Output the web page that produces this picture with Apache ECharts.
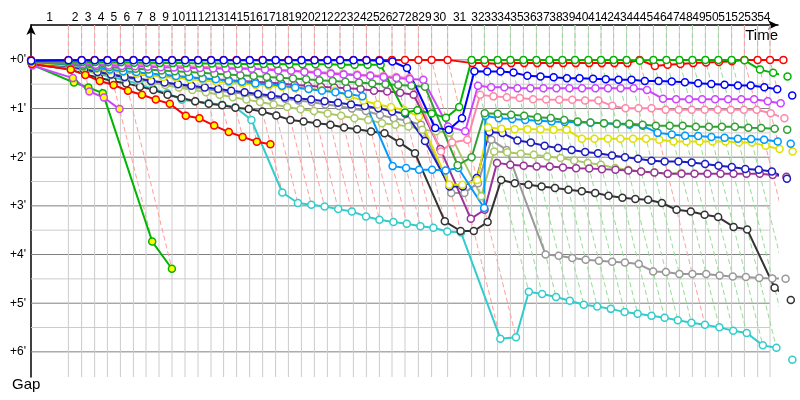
<!DOCTYPE html>
<html>
<head>
<meta charset="utf-8">
<script src="https://cdn.jsdelivr.net/npm/echarts@6/dist/echarts.min.js"></script>
<style>
html, body { margin: 0; background: #fff; }
#main { width: 800px; height: 400px; }
</style>
</head>
<body>
<div id="main"></div>
<script>
// leader's time (s) when each lap line is crossed, lap 0 .. 55
const lapLines = [0,187,253,318,382,447,512,575,640,705,770,835,900,963,1028,1093,1158,1223,1287,1352,1417,1482,1545,1612,1677,1742,1805,1870,1937,2003,2083,2203,2267,2333,2397,2462,2527,2592,2657,2720,2787,2850,2913,2978,3043,3112,3177,3242,3307,3372,3437,3503,3567,3633,3695,3762];

// gap to the leader (s) after each lap, index = lap number
const red = [0, 0,0,0,0,0,0,0,0,0,0, 0,0,0,0,0,0,0,0,0,0, 0,0,0,0,0,0,0,0,0,0,
  4,4,5,4,4,4,4,4,4,4, 4,4,4,0,7.5,6,5,4,3.3,2.5, 1.6,0,0,0,0];
const green = [2, 2,2.5,2.5,3,3,3.5,3.5,4,4,4, 4.5,4.5,4.5,5,5,5,5,5.5,5.5,5.5, 5.5,6,6,6,6,65,62,66,71.5,58,
  0,0,0,0,0,0,0,0,0,0, 0,0,0,1,0,0,0,0,0,0, 0,0.5,12,16,20.5];
const blue = [1, 0.5,0.5,0.5,0.5,0.5,0.5,0.5,0.5,0.5,0.5, 0.5,0.5,0.5,0.5,0.5,0.5,0.5,0.5,0.5,0.5,
  0.5,0.5,0.5,0.5,1,2,10,84,86,72, 14,14.4,14.4,15.6,19.7,20.5,21.3,22.6,22.6,23.4,
  23.8,24.6,24.6,26,26,26.7,27.5,28.7,29.6,30.8, 31.6,31.6,33.7,36.3,44];
const violet = [2, 4,5,6,7,7.5,8,8.5,9,9.5,10, 10,10.5,10.5,11,11,12,13,13.5,15,16,
  17,18,19,19.7,21,22.5,23.5,24.6,82,88, 32,33.7,33.7,35,35,35,35,35,35,35,
  35,35,35,37,48,48.5,48.5,48.5,48.5,48.5, 48.5,48.5,51,53.4];
const pink = [1, 3,4,4.5,5,5.5,6,6.5,7,7.5,8, 8.5,9,9.5,10,10.5,11,12,13,14,15,
  16,17,18,19,20,21,22,113,102,98.6, 43,45,46,47,48.4,49,49.3,49.3,50,50,
  56.7,59.5,59.5,59.5,61.6,61.6,61.6,61.6,61.6,61.6, 61.6,61.6,65.7,72];
const darkGreen = [3, 5,7,8,9,10,11,12,13,14,15, 16,17,18,19,20,21,22,23,24,25,
  26,27,28,29,30,31,32,33,130,120, 65.7,66.5,67.8,69,70.6,71.8,74,76,77.2,78,
  78.8,78.8,80,81.3,81.3,81.3,82.5,82.5,82.5,82.5, 83.7,84,85,86];
const lightBlue = [2, 6,8,10,12,14,15,17,18,20,21, 23,24,26,27,29,30,32,34,36,38,
  40,42,45,131,133.4,135.5,135.5,136.4,133.4,182.7, 69,72,73,74,75,76,76.5,77,77.5,78,
  79,80,81.3,90,92,93.5,94,95,96,97.3, 97.5,98.6,100.6,103.5];
const yellow = [4, 7,9,11,13,15,17,19,21,22,24, 25,27,28,29,31,32,33,35,36,37,
  38,45,50,55,58,62,70,154,154,148, 83.4,85,85.4,85.4,85.4,86,86,97.3,97.3,97.3,
  97.3,97.3,97.3,98.6,100.6,100.6,100.6,100.6,100.6,102, 102,106,110,113];
const navy = [4, 8,12,15,18,21,23,26,28,30,32, 34,36,38,40,42,44,46,47.5,49,51,
  53,55,57,59.5,63.7,66,100,156,156,145.7, 89,90.3,99.4,102,106,108.8,111,113.7,115,118,
  120,122,124.4,125.3,125.3,126.5,128.5,130.6,132,134.6, 135.5,137.6,146.6];
const purple = [3, 7,9,11,13,15,17,19,20,21,22, 23,24,25,26,27,28,29,31,32,33,
  34,35,36,38,39,40.6,43,110,196,184.8, 127,129.4,130.6,131.4,131.4,132.7,133.5,134,134.7,135.5,
  136.5,137.6,139,140.5,140.5,140.5,140.5,140.5,140.5,140.5, 140.5,141.8,144];
const lightOlive = [5, 10,13,16,19,22,25,28,31,34,37, 40,43,46,49,52,55,58,61,63,66,
  69,72,74,78,80,82,86,88,90,168, 113,114,115.8,117,119,121,124,127,129.4,133.4,
  135.5,137.6,138.8,140.5,139.6];
const gray = [4, 8,11,14,17,20,23,26,29,32,34, 36,38,40,42,44,46,48,50,52,55,
  57,60,63,68,72,75,80,164,164,152, 98.6,111,240,241.5,244.3,246.4,247.6,249,249.7,251.7,
  260.8,261.6,264,264,264,266,267,267.7,269,269.4, 270];
const black = [5, 12,18,22,26,29,33,37,43,47,51, 54,56,59,60.7,63.7,68.6,74,76,78,80,
  83.5,85.5,88.3,90.4,102,115,199,211,211,200, 148,152,154,156,158,160,162,164,167.6,170,
  171.6,172.5,176.5,184.8,187,191,193.8,206,209,281, 296];
const cyan = [5, 9,13,17,21,25,30,36,41,49.3,51.4, 53.3,55.4,58.3,74,163.5,176.5,178.6,180.7,184,187,
  193,197,200,202,205,207,211.5,212.8,343.7,342, 286,288.7,292.4,297,302,304,307,311,313,315.4,
  318,321,324,326.5,329.8,334,336.7,352,355,369.6];
const redOut = [5, 12,18.5,26,31,38,43,49,54,69,72, 81,89,95,101,104];
const greenOut = [6, 28,34,41,224,257.5];
const violetOut = [7, 22.5,39,46.4,60.7];

const gapTicks = [0, 60, 120, 180, 240, 300, 360];

const Y_MIN = -43, Y_MAX = 391, X_MAX = 3735;
const lastLine = lapLines[54];

const cars = [
  { gaps: cyan, color: '#33cccc' },
  { gaps: black, color: '#333333' },
  { gaps: gray, color: '#999999' },
  { gaps: lightOlive, color: '#aac866', out: true },
  { gaps: purple, color: '#993399' },
  { gaps: navy, color: '#1c1cc0' },
  { gaps: yellow, color: '#e0e000' },
  { gaps: lightBlue, color: '#0099ff' },
  { gaps: darkGreen, color: '#33a033' },
  { gaps: pink, color: '#ff88aa' },
  { gaps: violet, color: '#cc44ff' },
  { gaps: greenOut, color: '#00b400', fill: '#ffff00', out: true },
  { gaps: violetOut, color: '#cc44ff', fill: '#ffff00', out: true },
  { gaps: redOut, color: '#ff0000', fill: '#ffff00', out: true },
  { gaps: red, color: '#ff0000' },
  { gaps: green, color: '#00b400' },
  { gaps: blue, color: '#0000ff' }
];

const series = [];
function plain(data, color, width, type) {
  series.push({
    type: 'line', data: data, symbol: 'none', silent: true, clip: false,
    lineStyle: { color: color, width: width, type: type || 'solid' }
  });
}

// grid
for (let g = 0; g <= 360; g += 30) {
  plain([[0, g], [lastLine, g]], g % 60 === 0 ? '#808080' : '#cccccc', 1);
}
for (let k = 1; k <= 54; k++) {
  plain([[lapLines[k], Y_MIN], [lapLines[k], Y_MAX]], '#cccccc', 1);
}

// lap lines: each car crosses lap k at leader time + its gap
for (let k = 1; k < lapLines.length; k++) {
  let gmax = 0, open = false;
  cars.forEach(c => {
    if (c.gaps.length > k) gmax = Math.max(gmax, c.gaps[k]);
    else if (!c.out) open = true;
  });
  const end = open ? Y_MAX : gmax;
  const col = red[k] === 0 ? '#ff9c9c' : '#94dc94';
  plain([[lapLines[k], Y_MIN], [lapLines[k], 0], [lapLines[k] + end, end]], col, 1, [5, 3]);
}

cars.forEach(c => {
  series.push({
    type: 'line', clip: false, silent: true,
    data: c.gaps.map((g, k) => [lapLines[k] + g, g]),
    symbol: 'circle', symbolSize: 7,
    lineStyle: { color: c.color, width: 2 },
    itemStyle: { color: c.fill || '#ffffff', borderColor: c.color, borderWidth: 1.5 }
  });
});

const lapMids = [];
const lapOfMid = {};
for (let k = 1; k < lapLines.length; k++) {
  const m = (lapLines[k - 1] + lapLines[k]) / 2;
  lapMids.push(m);
  lapOfMid[m] = String(k);
}

const chart = echarts.init(document.getElementById('main'));
chart.setOption({
  animation: false,
  backgroundColor: '#ffffff',
  grid: { left: 31, right: 22, top: 25, bottom: 23 },
  xAxis: {
    type: 'value', position: 'top', min: 0, max: X_MAX,
    axisLine: { show: true, onZero: false, symbol: ['none', 'arrow'], symbolSize: [7, 10],
      lineStyle: { color: '#000', width: 1.5 } },
    axisTick: { show: false },
    splitLine: { show: false },
    axisLabel: {
      customValues: lapMids,
      formatter: v => lapOfMid[v],
      margin: 1, color: '#000', fontSize: 12, fontFamily: 'Liberation Sans'
    }
  },
  yAxis: {
    type: 'value', inverse: true, min: Y_MIN, max: Y_MAX,
    axisLine: { show: true, onZero: false, symbol: ['none', 'arrow'], symbolSize: [7, 10],
      lineStyle: { color: '#000', width: 1.5 } },
    axisTick: { show: false },
    splitLine: { show: false },
    axisLabel: {
      customValues: gapTicks,
      formatter: v => '+' + (v / 60) + "'",
      margin: 5, color: '#000', fontSize: 12, fontFamily: 'Liberation Sans'
    }
  },
  graphic: [
    { type: 'text', right: 22, top: 28,
      style: { text: 'Time', font: '15px "Liberation Sans"', fill: '#000' } },
    { type: 'text', left: 12, top: 377,
      style: { text: 'Gap', font: '15px "Liberation Sans"', fill: '#000' } }
  ],
  series: series
});
</script>
</body>
</html>
